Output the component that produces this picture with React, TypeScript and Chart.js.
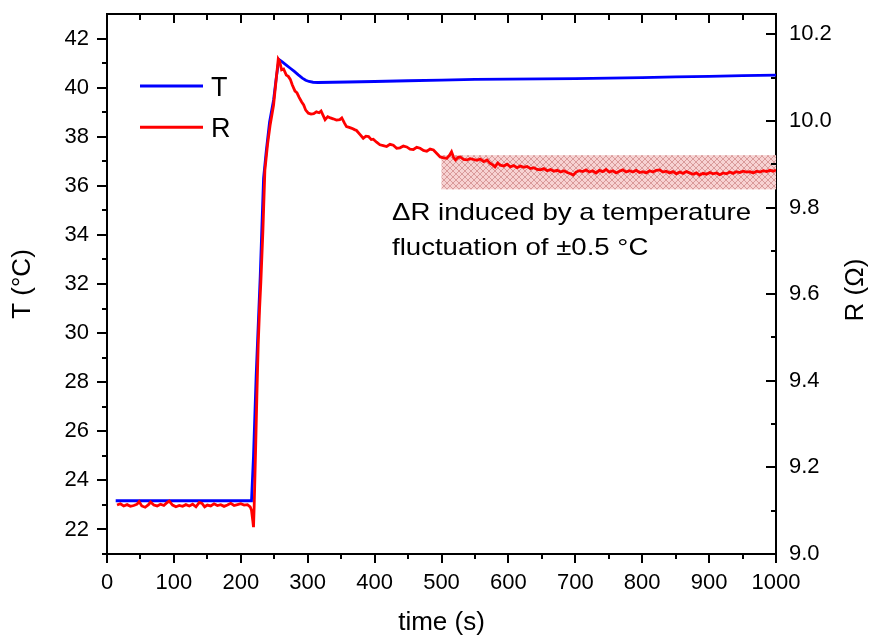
import React, { useEffect, useRef } from 'react';
import { Chart, registerables } from 'chart.js';
Chart.register(...registerables);

const FONT = '"Liberation Sans", Arial, Helvetica, sans-serif';

// Temperature series (left axis)
const tTime = [13, 216, 219, 223, 229, 234, 238, 243, 249, 253, 257, 262, 268, 274, 280, 286, 292, 297, 302, 308, 315, 360, 400, 450, 500, 550, 600, 650, 700, 750, 800, 850, 900, 950, 1000];
const tVal = [23.17, 23.17, 25.0, 28.3, 32.3, 36.3, 37.4, 38.6, 39.5, 40.4, 41.15, 41.05, 40.92, 40.79, 40.66, 40.52, 40.39, 40.3, 40.25, 40.22, 40.21, 40.23, 40.25, 40.28, 40.31, 40.34, 40.35, 40.36, 40.37, 40.39, 40.41, 40.44, 40.46, 40.49, 40.51];

// Resistance series (right axis)
const rTime = [
  15, 20, 25, 30, 35, 40, 45, 48, 52, 57, 62, 65, 70, 75, 80, 85, 90, 93, 98, 103,
  108, 113, 118, 123, 128, 133, 138, 142, 146, 150, 155, 160, 165, 170, 175, 180, 185, 190, 195, 200,
  205, 210, 214, 216, 218, 219, 220, 222, 224, 226, 228, 230, 233, 236, 240, 244, 249, 253, 256, 258,
  261, 264, 268, 271, 274, 277, 281, 284, 287, 291, 294, 297, 301, 305, 309, 313, 317, 320, 323, 326,
  330, 334, 338, 343, 348, 351, 355, 358, 362, 366, 370, 373, 378, 383, 387, 391, 395, 398, 403, 408,
  413, 418, 423, 428, 433, 438, 443, 448, 453, 458, 463, 468, 473, 478, 483, 488, 493, 498, 503, 508,
  512, 515, 518, 521, 525, 528, 533, 538, 543, 548, 553, 558, 563, 568, 572, 576, 580, 584, 588, 593,
  598, 603, 608, 613, 618, 623, 628, 633, 638, 643, 648, 653, 658, 663, 668, 673, 678, 683, 688, 693,
  697, 701, 706, 711, 716, 721, 726, 731, 736, 741, 746, 751, 756, 761, 766, 771, 776, 781, 786, 791,
  796, 801, 806, 811, 816, 821, 826, 831, 836, 841, 846, 851, 856, 861, 866, 871, 876, 881, 886, 891,
  896, 901, 906, 911, 916, 921, 926, 931, 936, 941, 946, 951, 956, 961, 966, 971, 976, 981, 986, 991,
  996, 1000,
];
const rVal = [
  9.113, 9.116, 9.111, 9.114, 9.11, 9.112, 9.115, 9.121, 9.111, 9.108, 9.114, 9.12, 9.113, 9.111, 9.115, 9.112, 9.119, 9.122, 9.113, 9.109,
  9.112, 9.11, 9.114, 9.111, 9.115, 9.109, 9.119, 9.117, 9.109, 9.113, 9.111, 9.116, 9.112, 9.114, 9.11, 9.113, 9.117, 9.112, 9.114, 9.116,
  9.113, 9.114, 9.109, 9.101, 9.076, 9.062, 9.111, 9.232, 9.363, 9.483, 9.564, 9.629, 9.745, 9.886, 9.946, 9.992, 10.037, 10.098, 10.143, 10.138,
  10.118, 10.12, 10.106, 10.103, 10.096, 10.083, 10.069, 10.065, 10.055, 10.044, 10.037, 10.025, 10.018, 10.016, 10.017, 10.021, 10.019, 10.023, 10.013, 10.003,
  10.01, 10.007, 10.005, 10.002, 10.003, 10.007, 9.995, 9.987, 9.985, 9.983, 9.98, 9.978, 9.969, 9.96, 9.965, 9.964, 9.957, 9.958, 9.951, 9.945,
  9.943, 9.941, 9.946, 9.944, 9.937, 9.938, 9.942, 9.94, 9.935, 9.934, 9.939, 9.937, 9.932, 9.93, 9.935, 9.933, 9.925, 9.917, 9.915, 9.914,
  9.921, 9.929, 9.916, 9.91, 9.916, 9.917, 9.911, 9.91, 9.913, 9.911, 9.909, 9.912, 9.906, 9.91, 9.903, 9.899, 9.894, 9.903, 9.898, 9.896,
  9.9, 9.894, 9.897, 9.892, 9.896, 9.893, 9.895, 9.89, 9.892, 9.888, 9.887, 9.89, 9.885, 9.888, 9.884, 9.886, 9.882, 9.885, 9.881, 9.878,
  9.875, 9.882, 9.885, 9.883, 9.887, 9.882, 9.885, 9.88, 9.886, 9.883, 9.888, 9.882, 9.885, 9.88, 9.884, 9.887, 9.882, 9.885, 9.882, 9.886,
  9.881, 9.883, 9.88, 9.885, 9.882, 9.886, 9.887, 9.882, 9.884, 9.88, 9.883, 9.878, 9.882, 9.879, 9.883, 9.88, 9.877, 9.88, 9.875, 9.879,
  9.877, 9.881, 9.878, 9.88, 9.876, 9.88, 9.878, 9.882, 9.879, 9.883, 9.881, 9.884, 9.882, 9.883, 9.88, 9.884, 9.882, 9.885, 9.883, 9.886,
  9.884, 9.887,
];

// Axis ticks
const xTicks = [0, 100, 200, 300, 400, 500, 600, 700, 800, 900, 1000];
const xMinor = [50, 150, 250, 350, 450, 550, 650, 750, 850, 950];
const tTicks = [22, 24, 26, 28, 30, 32, 34, 36, 38, 40, 42];
const tMinor = [21, 23, 25, 27, 29, 31, 33, 35, 37, 39, 41];
const rTicks = [9.0, 9.2, 9.4, 9.6, 9.8, 10.0, 10.2];
const rMinor = [9.1, 9.3, 9.5, 9.7, 9.9, 10.1];

// Shaded band (time range, R range)
const bandTime = [500, 1000];
const bandR = [9.842, 9.921];

const legendLabels = ['T', 'R'];
const seriesColors = ['#0000ff', '#ff0000'];
const noteLines = ['\u0394R induced by a temperature', 'fluctuation of \u00b10.5 \u00b0C'];

function makePattern(ctx: CanvasRenderingContext2D) {
  const c = document.createElement('canvas');
  c.width = 6;
  c.height = 6;
  const p = c.getContext('2d')!;
  p.fillStyle = '#f7d2d2';
  p.fillRect(0, 0, 6, 6);
  p.strokeStyle = '#d99a9a';
  p.lineWidth = 1;
  p.beginPath();
  p.moveTo(0, 0);
  p.lineTo(6, 6);
  p.moveTo(6, 0);
  p.lineTo(0, 6);
  p.stroke();
  return ctx.createPattern(c, 'repeat');
}

const decor = {
  id: 'decor',
  beforeDatasetsDraw(chart: any) {
    const { ctx, scales } = chart;
    const x0 = scales.x.getPixelForValue(bandTime[0]);
    const x1 = scales.x.getPixelForValue(bandTime[1]);
    const yTop = scales.y1.getPixelForValue(bandR[1]);
    const yBot = scales.y1.getPixelForValue(bandR[0]);
    ctx.save();
    const pat = makePattern(ctx);
    if (pat) ctx.fillStyle = pat;
    ctx.fillRect(x0, yTop, x1 - x0, yBot - yTop);
    ctx.restore();
  },
  afterDraw(chart: any) {
    const { ctx, scales, chartArea } = chart;
    const { left, right, top, bottom } = chartArea;
    const seg = (a: number, b: number, c: number, d: number) => {
      ctx.beginPath();
      ctx.moveTo(a, b);
      ctx.lineTo(c, d);
      ctx.stroke();
    };
    ctx.save();
    ctx.strokeStyle = '#000';
    ctx.lineWidth = 2;
    seg(left - 1, top, right + 1, top);
    xTicks.forEach((v) => {
      const px = Math.round(scales.x.getPixelForValue(v));
      seg(px, bottom, px, bottom + 9);
      seg(px, top, px, top + 9);
    });
    xMinor.forEach((v) => {
      const px = Math.round(scales.x.getPixelForValue(v));
      seg(px, bottom, px, bottom + 5);
      seg(px, top, px, top + 6);
    });
    tTicks.forEach((v) => {
      const py = Math.round(scales.y.getPixelForValue(v));
      seg(left - 10, py, left, py);
    });
    tMinor.forEach((v) => {
      const py = Math.round(scales.y.getPixelForValue(v));
      seg(left - 5, py, left, py);
    });
    rTicks.forEach((v) => {
      const py = Math.round(scales.y1.getPixelForValue(v));
      seg(right - 10, py, right, py);
    });
    rMinor.forEach((v) => {
      const py = Math.round(scales.y1.getPixelForValue(v));
      seg(right - 5, py, right, py);
    });

    // legend
    ctx.lineWidth = 3;
    ctx.font = `27px ${FONT}`;
    ctx.textAlign = 'left';
    ctx.textBaseline = 'alphabetic';
    legendLabels.forEach((lab, i) => {
      const y = 86 + i * 41.3;
      ctx.strokeStyle = seriesColors[i];
      seg(140, y, 203, y);
      ctx.fillStyle = '#000';
      ctx.fillText(lab, 211, y + 9.6);
    });

    // annotation
    ctx.font = `24px ${FONT}`;
    noteLines.forEach((line, i) => {
      ctx.save();
      ctx.translate(392, 220 + i * 35);
      ctx.scale(1.15, 1);
      ctx.fillText(line, 0, 0);
      ctx.restore();
    });

    // right axis title
    ctx.save();
    ctx.font = `26px ${FONT}`;
    ctx.translate(856, 290);
    ctx.rotate(-Math.PI / 2);
    ctx.textAlign = 'center';
    ctx.textBaseline = 'middle';
    ctx.fillText('R (\u03a9)', 0, 0);
    ctx.restore();
    ctx.restore();
  },
};

export default function App() {
  const ref = useRef<HTMLCanvasElement | null>(null);
  useEffect(() => {
    if (!ref.current) return;
    Chart.defaults.font.family = FONT;
    const tickFont = { family: FONT, size: 22 };
    const titleFont = { family: FONT, size: 26 };
    const chart = new Chart(ref.current, {
      type: 'line',
      data: {
        datasets: [
          {
            label: 'T',
            data: tTime.map((x, i) => ({ x, y: tVal[i] })),
            borderColor: seriesColors[0],
            borderWidth: 2.8,
            pointRadius: 0,
            tension: 0,
            yAxisID: 'y',
            order: 1,
          },
          {
            label: 'R',
            data: rTime.map((x, i) => ({ x, y: rVal[i] })),
            borderColor: seriesColors[1],
            borderWidth: 2.8,
            pointRadius: 0,
            tension: 0,
            yAxisID: 'y1',
            order: 0,
          },
        ],
      },
      options: {
        responsive: false,
        animation: false,
        layout: { padding: { top: 14, left: 0, right: 0, bottom: 0 } },
        plugins: { legend: { display: false }, tooltip: { enabled: false } },
        scales: {
          x: {
            type: 'linear',
            position: 'bottom',
            min: 0,
            max: 1000,
            afterBuildTicks: (s: any) => {
              s.ticks = xTicks.map((value) => ({ value }));
            },
            afterFit: (s: any) => {
              s.height = 81;
              s.paddingLeft = 0;
              s.paddingRight = 0;
            },
            ticks: {
              font: tickFont,
              color: '#000',
              padding: 16,
              maxRotation: 0,
              autoSkip: false,
              callback: (v: any) => String(v),
            },
            grid: { display: false, drawTicks: false },
            border: { display: true, color: '#000', width: 2 },
            title: { display: true, text: 'time (s)', font: titleFont, color: '#000', padding: { top: 0, bottom: -3 } },
          },
          y: {
            type: 'linear',
            position: 'left',
            min: 21,
            max: 43,
            afterBuildTicks: (s: any) => {
              s.ticks = tTicks.map((value) => ({ value }));
            },
            afterFit: (s: any) => {
              s.width = 107;
              s.paddingTop = 0;
              s.paddingBottom = 0;
            },
            ticks: { font: tickFont, color: '#000', padding: 18, autoSkip: false, callback: (v: any) => String(v) },
            grid: { display: false, drawTicks: false },
            border: { display: true, color: '#000', width: 2 },
            title: { display: true, text: 'T (\u00b0C)', font: titleFont, color: '#000', padding: { top: 7, bottom: 0 } },
          },
          y1: {
            type: 'linear',
            position: 'right',
            min: 9.0,
            max: 10.247,
            afterBuildTicks: (s: any) => {
              s.ticks = rTicks.map((value) => ({ value }));
            },
            afterFit: (s: any) => {
              s.width = 99;
              s.paddingTop = 0;
              s.paddingBottom = 0;
            },
            ticks: {
              font: tickFont,
              color: '#000',
              padding: 13,
              autoSkip: false,
              callback: (v: any) => Number(v).toFixed(1),
            },
            grid: { display: false, drawTicks: false },
            border: { display: true, color: '#000', width: 2 },
          },
        },
      },
      plugins: [decor],
    } as any);
    return () => chart.destroy();
  }, []);
  return (
    <div style={{ position: 'fixed', left: 0, top: 0, width: 875, height: 635, background: '#fff' }}>
      <canvas ref={ref} width={875} height={635} style={{ width: 875, height: 635, display: 'block' }} />
    </div>
  );
}
